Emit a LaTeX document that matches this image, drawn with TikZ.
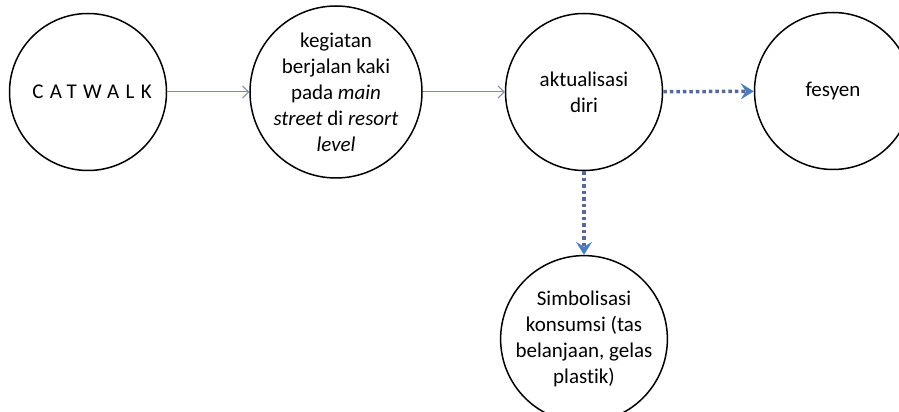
\documentclass[tikz,border=0pt]{standalone}
\usepackage{fontspec}
\setmainfont[Ligatures=NoCommon]{Carlito}
\usepackage{xcolor}
\usepackage{tikz}
\usetikzlibrary{arrows.meta}
\definecolor{garis}{HTML}{7D8BAE}
\definecolor{titik}{HTML}{56699A}
\definecolor{ujung}{HTML}{4A7EBB}

\begin{document}
\begin{tikzpicture}[x=1pt, y=1pt, every node/.style={draw, circle, line width=1.5pt, minimum size=157pt, inner sep=0pt, align=center, font=\fontsize{21}{26}\selectfont}]
	\path[use as bounding box, clip] (0,0) rectangle (899,412);
	\node (Catwalk) at (88,320) {\hspace*{8pt}\addfontfeature{LetterSpace=30}CATWALK};
	\node (Jalan) at (336,320) {kegiatan\\berjalan kaki\\pada \textit{main}\\\textit{street} di \textit{resort}\\\textit{level}};
	\node (Aktual) at (584,320) {aktualisasi\\diri};
	\node (Fesyen) at (833,321) {fesyen};
	\node (Simbol) at (584,73) {Simbolisasi\\konsumsi (tas\\belanjaan, gelas\\plastik)};
	\draw[garis, line width=1pt, -{Straight Barb[length=6pt,width=12pt]}] (Catwalk) -- (Jalan);
	\draw[garis, line width=1pt, -{Straight Barb[length=6pt,width=12pt]}] (Jalan) -- (Aktual);
	\draw[titik, line width=3.5pt, dash pattern=on 3.5pt off 3pt, -{Stealth[length=13pt,width=16pt,inset=5pt,color=ujung]}] (Aktual) -- (Fesyen);
	\draw[titik, line width=3.5pt, dash pattern=on 3.5pt off 3pt, -{Stealth[length=13pt,width=16pt,inset=5pt,color=ujung]}] (Aktual) -- (Simbol);
\end{tikzpicture}
\end{document}
